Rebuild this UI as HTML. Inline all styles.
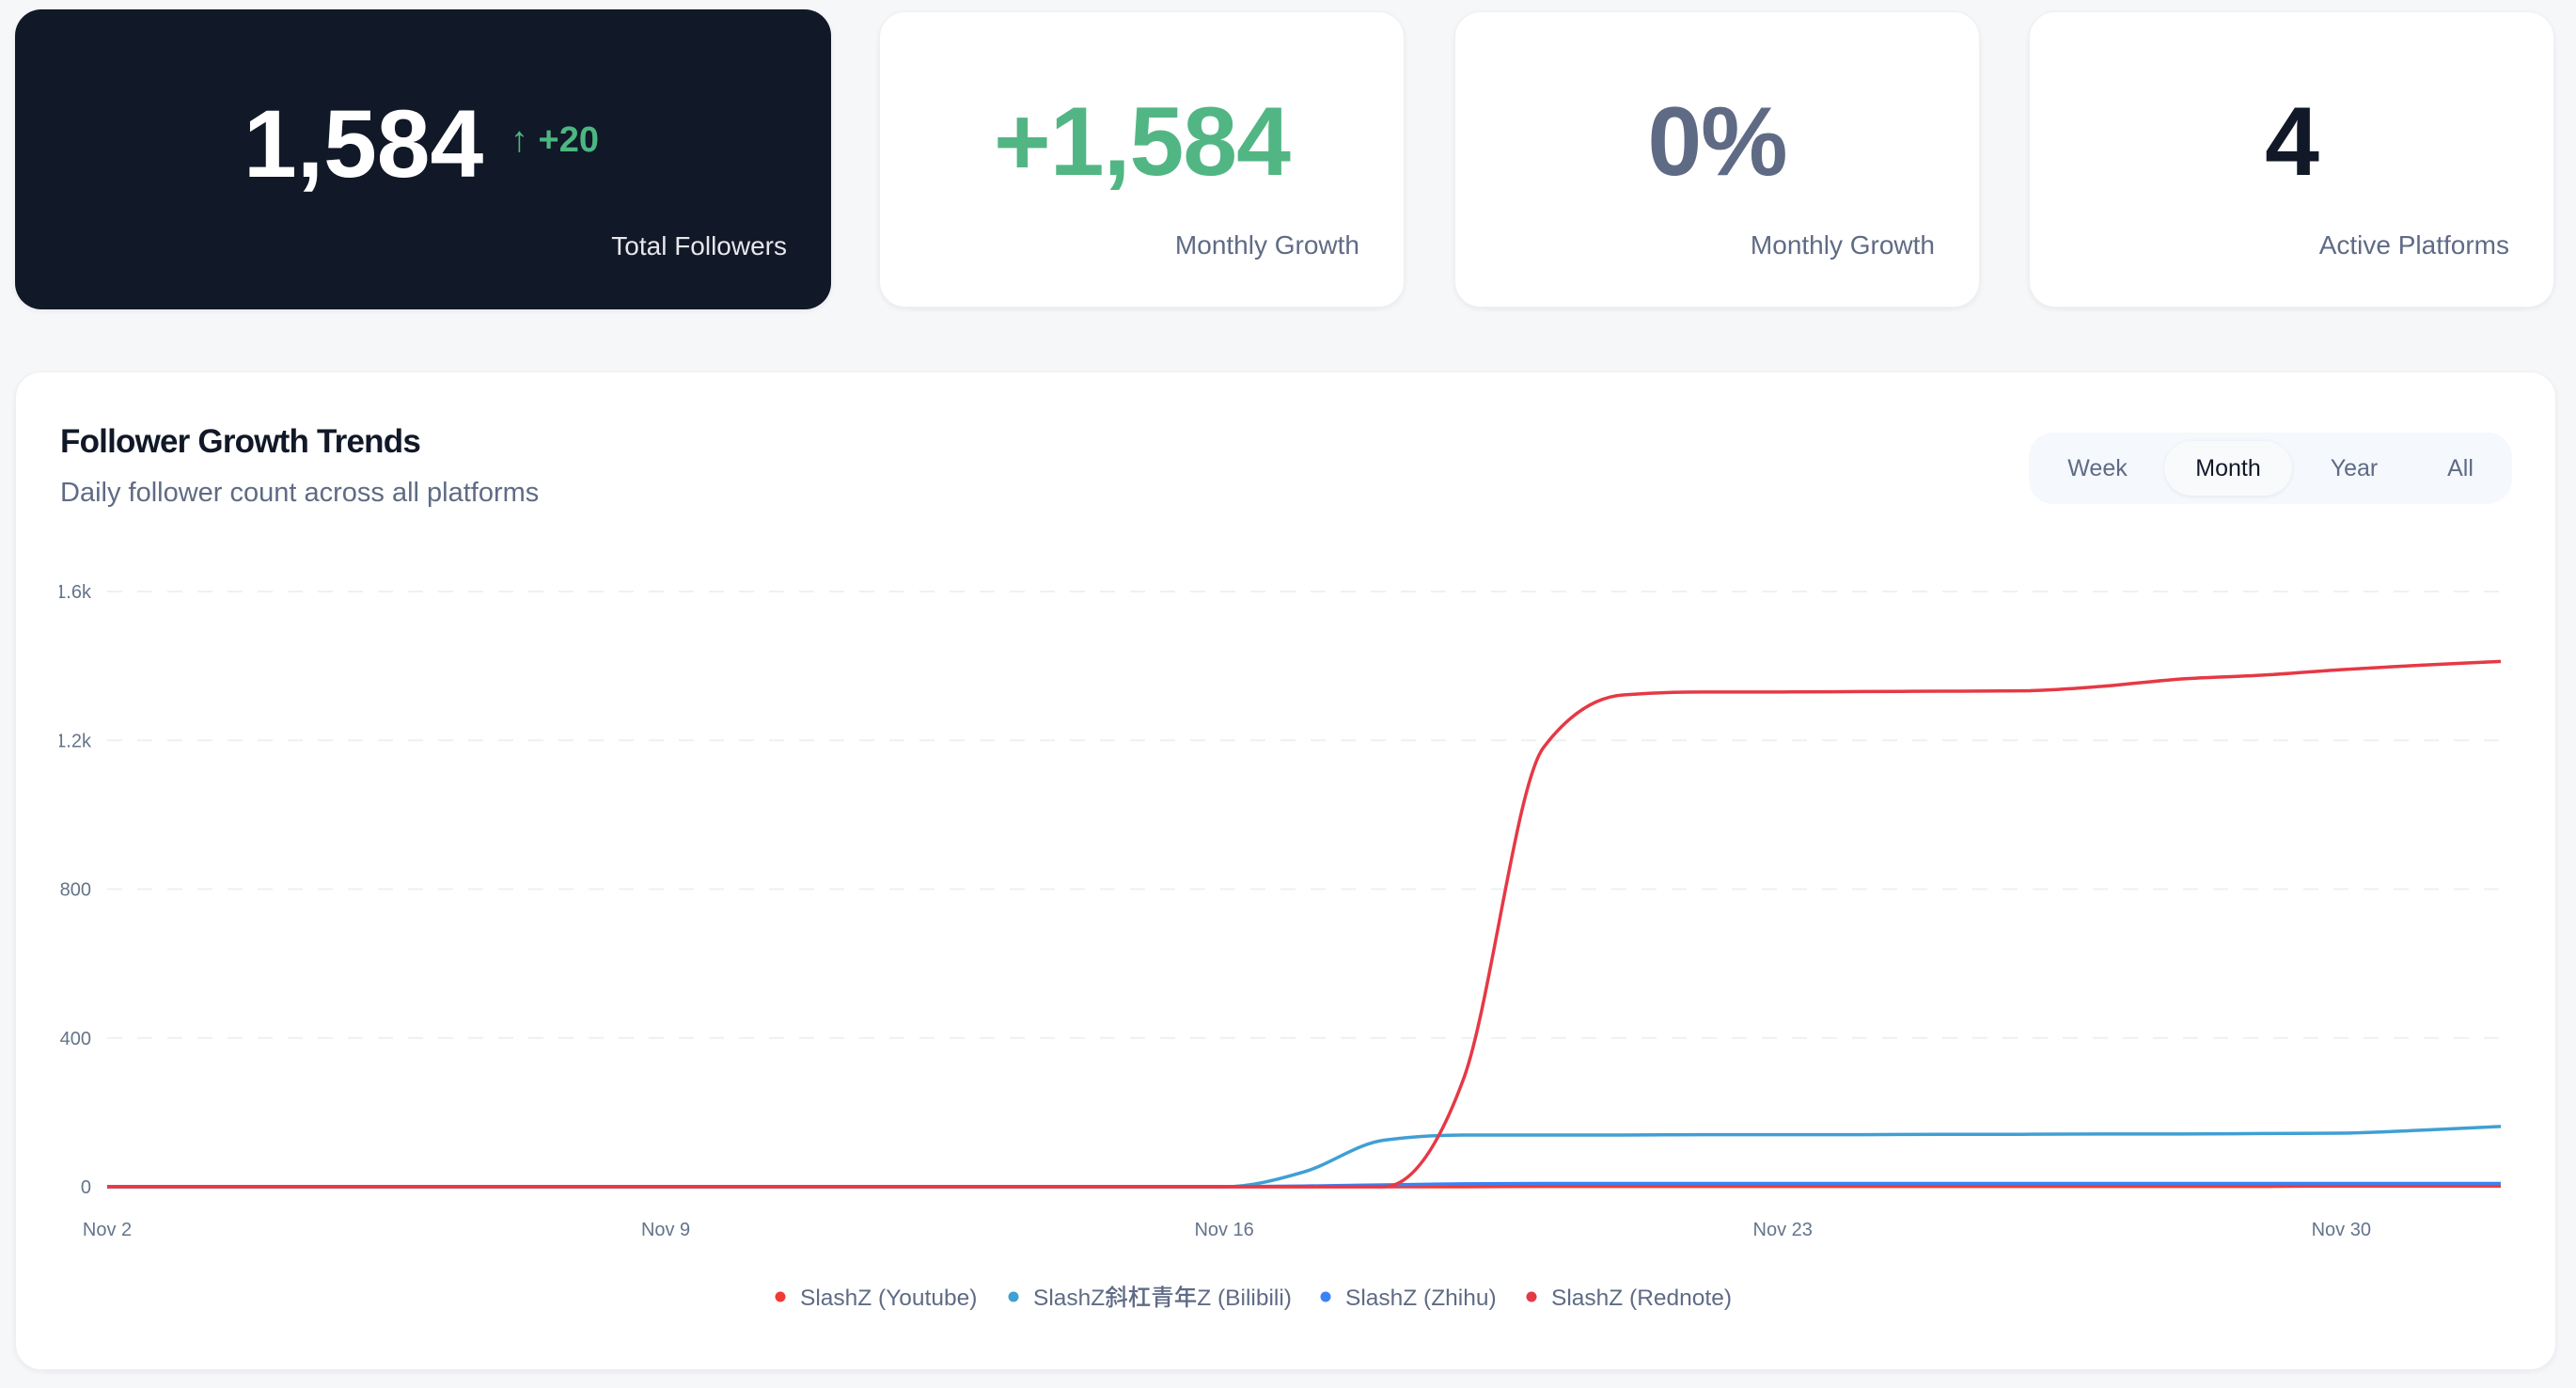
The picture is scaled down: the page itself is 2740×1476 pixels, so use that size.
<!DOCTYPE html>
<html><head><meta charset="utf-8">
<style>
*{box-sizing:border-box;margin:0;padding:0}
body{width:2740px;height:1476px;background:#f6f7f9;font-family:"Liberation Sans","Noto Sans CJK SC",sans-serif;position:relative;overflow:hidden}
.card{position:absolute;background:#fff;border-radius:28px;box-shadow:0 2px 6px rgba(15,23,42,0.06);border:1px solid #eef0f4}
.num{position:absolute;left:0;right:0;text-align:center;top:86px;font-size:104px;font-weight:700;line-height:1;letter-spacing:-1px}
.lbl{position:absolute;right:47px;top:232px;font-size:28px;color:#5f6b85;font-weight:500}
.tab{position:absolute;top:0;height:76px;line-height:76px;font-size:25px;color:#5f6b85;text-align:center}
</style></head><body>
<div class="card" style="left:16px;top:10px;width:868px;height:319px;background:#111827;border:none">
  <div style="position:absolute;left:243px;top:92px;font-size:102px;font-weight:700;color:#fff;line-height:1">1,584</div>
  <div style="position:absolute;left:527px;top:118px;font-size:38px;font-weight:700;color:#4cb782">↑ +20</div>
  <div class="lbl" style="color:#e5e7eb;top:236px">Total Followers</div>
</div>
<div class="card" style="left:935px;top:12px;width:559px;height:315px">
  <div class="num" style="color:#52b684">+1,584</div>
  <div class="lbl">Monthly Growth</div>
</div>
<div class="card" style="left:1547px;top:12px;width:559px;height:315px">
  <div class="num" style="color:#5f6b85">0%</div>
  <div class="lbl">Monthly Growth</div>
</div>
<div class="card" style="left:2158px;top:12px;width:559px;height:315px">
  <div class="num" style="color:#111827">4</div>
  <div class="lbl">Active Platforms</div>
</div>

<div class="card" style="left:16px;top:395px;width:2703px;height:1062px"></div>
<div style="position:absolute;left:64px;top:450px;font-size:35px;font-weight:700;color:#111827;letter-spacing:-0.8px">Follower Growth Trends</div>
<div style="position:absolute;left:64px;top:508px;font-size:29px;color:#5f6b85">Daily follower count across all platforms</div>
<div style="position:absolute;left:2158px;top:460px;width:514px;height:76px;background:#f5f8fc;border-radius:26px">
  <div class="tab" style="left:20px;width:106px">Week</div>
  <div class="tab" style="left:144px;width:136px;top:9px;height:58px;line-height:58px;background:#f8fafc;border-radius:29px;box-shadow:0 1px 4px rgba(15,23,42,0.08);color:#111827">Month</div>
  <div class="tab" style="left:296px;width:100px">Year</div>
  <div class="tab" style="left:414px;width:90px">All</div>
</div>

<svg id="chart" width="2740" height="1476" style="position:absolute;left:0;top:0">
  <defs><clipPath id="lc"><rect x="63" y="0" width="2700" height="1476"/></clipPath></defs>
  <g id="grid"></g><g id="ylabels" clip-path="url(#lc)"></g><g id="xlabels"></g><g id="lines"></g><g id="legend"></g>
</svg>
<script>
const days = ["Nov 2","Nov 3","Nov 4","Nov 5","Nov 6","Nov 7","Nov 8","Nov 9","Nov 10","Nov 11","Nov 12","Nov 13","Nov 14","Nov 15","Nov 16","Nov 17","Nov 18","Nov 19","Nov 20","Nov 21","Nov 22","Nov 23","Nov 24","Nov 25","Nov 26","Nov 27","Nov 28","Nov 29","Nov 30","Dec 1","Dec 2"];
const youtube  = [0,0,0,0,0,0,0,0,0,0,0,0,0,0,0,0,0,0,1,1,1,1,1,1,1,1,1,1,2,2,2];
const bilibili = [0,0,0,0,0,0,0,0,0,0,0,0,0,0,0,40,125,139,139,139,140,140,140,141,141,142,142,143,144,152,162];
const zhihu    = [0,0,0,0,0,0,0,0,0,0,0,0,0,0,0,2,5,8,9,9,9,9,9,9,9,9,9,9,9,9,9];
const rednote  = [0,0,0,0,0,0,0,0,0,0,0,0,0,0,0,0,0,290,1180,1322,1330,1330,1331,1332,1333,1345,1365,1375,1390,1402,1412];
const yTicks = [0,400,800,1200,1600];
const yTickLabels = ["0","400","800","1.2k","1.6k"];
const xTickLabels = ["Nov 2","Nov 9","Nov 16","Nov 23","Nov 30"];
const seriesNames = ["SlashZ (Youtube)","SlashZ斜杠青年Z (Bilibili)","SlashZ (Zhihu)","SlashZ (Rednote)"];

const NS="http://www.w3.org/2000/svg";
const X0=114,X1=2660,Y0=1262,Y1=629;
const xs=i=>X0+(X1-X0)*i/(days.length-1);
const ys=v=>Y0-(Y0-Y1)*v/1600;
function mk(t,a,p){const e=document.createElementNS(NS,t);for(const k in a)e.setAttribute(k,a[k]);p.appendChild(e);return e;}
const grid=document.getElementById('grid'),yl=document.getElementById('ylabels'),xl=document.getElementById('xlabels'),ln=document.getElementById('lines'),lg=document.getElementById('legend');
yTicks.forEach((v,i)=>{
  if(v>0){const g=mk('line',{x1:X0,x2:X1,y1:ys(v),y2:ys(v),stroke:'#edf0f4','stroke-width':2,'stroke-dasharray':'16 16'},grid);
  
  }
  const t=mk('text',{x:97,y:ys(v)+7,'text-anchor':'end','font-size':20,fill:'#64748b','font-family':'Liberation Sans, sans-serif'},yl);
  t.textContent=yTickLabels[i];
  
  
});
xTickLabels.forEach(l=>{
  const i=days.indexOf(l);
  const t=mk('text',{x:xs(i),y:1314,'text-anchor':'middle','font-size':20,fill:'#64748b','font-family':'Liberation Sans, sans-serif'},xl);
  t.textContent=l;
  
  
});
function monotone(pts){
  const n=pts.length,d=[],m=[];
  for(let i=0;i<n-1;i++)d.push((pts[i+1][1]-pts[i][1])/(pts[i+1][0]-pts[i][0]));
  for(let i=0;i<n;i++){
    if(i==0)m.push(d[0]);else if(i==n-1)m.push(d[n-2]);
    else m.push(d[i-1]*d[i]<=0?0:(()=>{const h0=pts[i][0]-pts[i-1][0],h1=pts[i+1][0]-pts[i][0];const p=(d[i-1]*h1+d[i]*h0)/(h0+h1);return (Math.sign(d[i-1])+Math.sign(d[i]))*Math.min(Math.abs(d[i-1]),Math.abs(d[i]),0.5*Math.abs(p));})());
  }
  let s=`M${pts[0][0]},${pts[0][1]}`;
  for(let i=0;i<n-1;i++){const h=(pts[i+1][0]-pts[i][0])/3;
    s+=`C${pts[i][0]+h},${pts[i][1]+h*m[i]} ${pts[i+1][0]-h},${pts[i+1][1]-h*m[i+1]} ${pts[i+1][0]},${pts[i+1][1]}`;}
  return s;
}
const colors=['#ef3b36','#409fd4','#3b82f6','#e53945'];
const sets=[youtube,bilibili,zhihu,rednote];
const lineNames=['line-youtube','line-bilibili','line-zhihu','line-rednote'];
sets.forEach((arr,k)=>{
  const p=mk('path',{d:monotone(arr.map((v,i)=>[xs(i),ys(v)])),fill:'none',stroke:colors[k],'stroke-width':3.5,'stroke-linejoin':'round'},ln);
  
  
});
const legX=[830,1078,1410,1629];
seriesNames.forEach((nm,k)=>{
  const c=mk('circle',{cx:legX[k],cy:1379,r:5.5,fill:colors[k]},lg);
  
  
  const t=mk('text',{x:legX[k]+21,y:1388,'font-size':24.5,fill:'#5f6b85','font-weight':500,'font-family':'Liberation Sans, Noto Sans CJK SC, sans-serif'},lg);
  t.textContent=nm;
  
  
});
</script>
</body></html>
